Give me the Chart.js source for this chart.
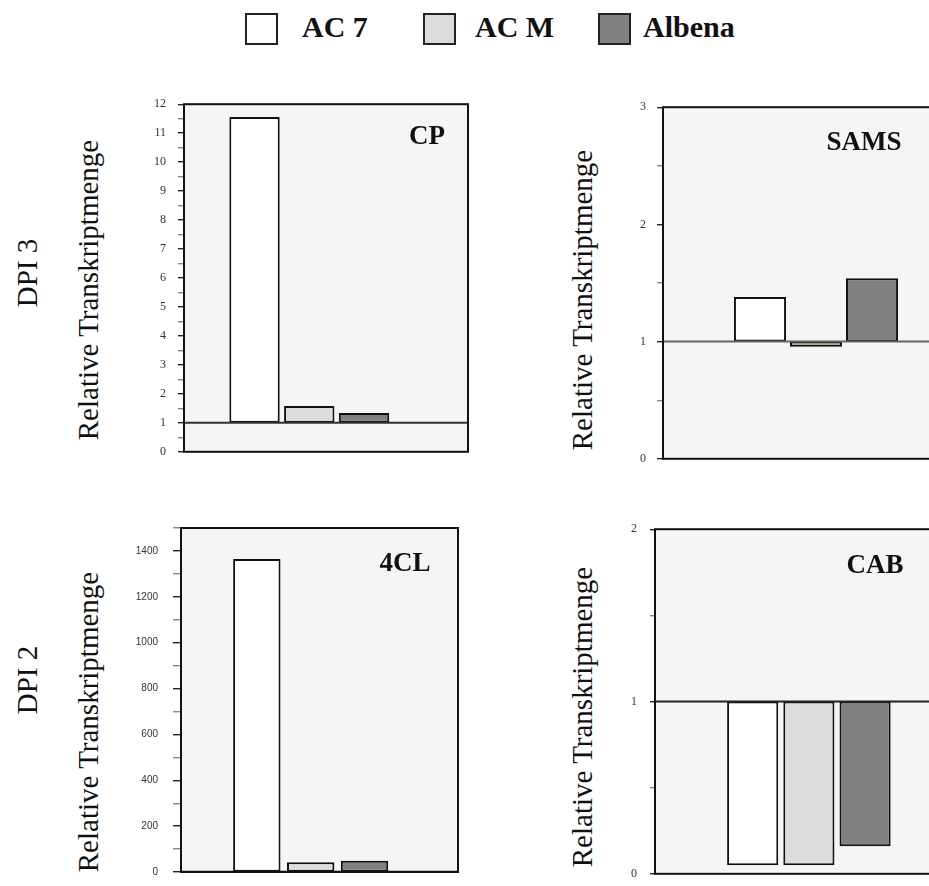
<!DOCTYPE html>
<html>
<head>
<meta charset="utf-8">
<script src="https://cdn.jsdelivr.net/npm/chart.js@4/dist/chart.umd.min.js"></script>
<style>
  html, body { margin: 0; padding: 0; background: #fff; overflow: hidden; width: 929px; height: 886px; }
  body { position: relative; font-family: "Liberation Serif", "Times New Roman", serif; color: #111; }
  canvas { position: absolute; }
  .rot { position: absolute; font-size: 29px; line-height: 29px; white-space: nowrap;
         transform: translate(-50%, -50%) rotate(-90deg); }
  .legtext { position: absolute; top: 12px; font-size: 30px; line-height: 30px; font-weight: bold; white-space: nowrap; }
  .swatch { position: absolute; top: 13px; width: 29px; height: 28px; border: 2px solid #222; }
</style>
</head>
<body>
<div id="legend"></div>
<div class="rot" style="left:27px; top:273px;">DPI 3</div>
<div class="rot" style="left:27px; top:680px;">DPI 2</div>
<div class="rot" style="left:88px; top:290px;">Relative Transkriptmenge</div>
<div class="rot" style="left:582px; top:300px;">Relative Transkriptmenge</div>
<div class="rot" style="left:88px; top:722px;">Relative Transkriptmenge</div>
<div class="rot" style="left:582px; top:717px;">Relative Transkriptmenge</div>
<canvas id="cp"></canvas>
<canvas id="sams"></canvas>
<canvas id="cl"></canvas>
<canvas id="cab"></canvas>
<script>
// Lines (series) and their fills
const seriesNames = ['AC 7', 'AC M', 'Albena'];
const seriesColors = ['#ffffff', '#dcdcdc', '#808080'];

// Relative transcript amounts (control = 1)
const baseline = 1;
const cpValues = [11.56, 1.58, 1.34];
const samsValues = [1.38, 0.956, 1.54];
const clValues = [1365, 42, 49];
const cabValues = [0.05, 0.05, 0.16];

// Labelled ticks on each y axis
const cpTickLabels = [0, 1, 2, 3, 4, 5, 6, 7, 8, 9, 10, 11, 12];
const samsTickLabels = [0, 1, 2, 3];
const clTickLabels = [0, 200, 400, 600, 800, 1000, 1200, 1400];
const cabTickLabels = [0, 1, 2];

// Legend above the panels
(function buildLegend() {
  const legend = document.getElementById('legend');
  const swatchX = [245, 423, 598];
  const textX = [302, 475, 643];
  seriesNames.forEach((name, i) => {
    const sw = document.createElement('div');
    sw.className = 'swatch';
    sw.style.left = swatchX[i] + 'px';
    sw.style.background = seriesColors[i];
    legend.appendChild(sw);
    const t = document.createElement('div');
    t.className = 'legtext';
    t.style.left = textX[i] + 'px';
    t.textContent = name;
    legend.appendChild(t);
  });
})();

// Plot frame: shaded background, reference line at 1, border and gene label
const framePlugin = {
  id: 'panelFrame',
  beforeDraw(chart, args, opts) {
    const a = chart.chartArea, ctx = chart.ctx;
    ctx.save();
    ctx.fillStyle = '#f5f5f5';
    ctx.fillRect(a.left, a.top, a.right - a.left, a.bottom - a.top);
    ctx.restore();
  },
  afterDatasetsDraw(chart, args, opts) {
    const a = chart.chartArea, ctx = chart.ctx;
    const y = chart.scales.y.getPixelForValue(baseline);
    ctx.save();
    ctx.strokeStyle = opts.lineColor;
    ctx.lineWidth = 2;
    ctx.beginPath();
    ctx.moveTo(a.left, y);
    ctx.lineTo(a.right, y);
    ctx.stroke();
    ctx.strokeStyle = '#111';
    ctx.lineWidth = 2;
    ctx.strokeRect(a.left, a.top, a.right - a.left, a.bottom - a.top);
    ctx.fillStyle = '#111';
    ctx.font = 'bold 27px "Liberation Serif", "Times New Roman", serif';
    ctx.textAlign = 'center';
    ctx.textBaseline = 'alphabetic';
    ctx.fillText(opts.label, a.left + opts.labelDx, a.top + opts.labelDy);
    ctx.restore();
  }
};

function makePanel(o) {
  const cv = document.getElementById(o.id);
  const W = 60, padT = 10, padB = 10, padR = 4;
  const bw = o.right - o.left, bh = o.bottom - o.top;
  cv.width = W + bw + padR;
  cv.height = padT + bh + padB;
  cv.style.left = (o.left - W) + 'px';
  cv.style.top = (o.top - padT) + 'px';
  new Chart(cv, {
    type: 'bar',
    data: {
      datasets: [{
        data: o.values.map((v, i) => ({ x: i, y: [baseline, v] })),
        backgroundColor: o.colors,
        borderColor: '#111',
        borderWidth: 2,
        borderSkipped: false,
        barPercentage: o.barFrac,
        categoryPercentage: 1
      }]
    },
    options: {
      responsive: false,
      animation: false,
      devicePixelRatio: 1,
      layout: { padding: { top: padT, bottom: padB, left: 0, right: padR } },
      plugins: {
        legend: { display: false },
        tooltip: { enabled: false },
        panelFrame: { label: o.label, labelDx: o.labelDx, labelDy: o.labelDy, lineColor: o.lineColor }
      },
      scales: {
        x: { type: 'linear', display: false, min: o.xMin, max: o.xMax, offset: false },
        y: {
          min: 0,
          max: o.yMax,
          afterFit(scale) { scale.width = W; },
          border: { display: false },
          grid: {
            drawOnChartArea: false,
            drawTicks: true,
            tickLength: o.tickLen,
            lineWidth: 1.4,
            tickColor: ctx => (o.labels.includes(ctx.tick.value) ? '#222' : '#888')
          },
          ticks: {
            stepSize: o.step,
            autoSkip: false,
            padding: o.tickPad,
            color: '#333',
            font: { family: o.fontFamily, size: o.fontSize },
            callback: v => (o.labels.includes(v) ? String(v) : '')
          }
        }
      }
    },
    plugins: [framePlugin]
  });
}

const serifTicks = '"Liberation Serif", "Times New Roman", serif';
const sansTicks = '"Liberation Sans", Arial, sans-serif';

makePanel({
  id: 'cp', values: cpValues, colors: seriesColors, labels: cpTickLabels,
  left: 184, right: 468, top: 95, bottom: 461.5,
  xMin: -1.288, xMax: 3.899, barFrac: 0.92,
  yMax: 12, step: 0.5, tickLen: 6, tickPad: 12, fontSize: 12, fontFamily: serifTicks,
  label: 'CP', labelDx: 243, labelDy: 40, lineColor: '#333'
});

makePanel({
  id: 'sams', values: samsValues, colors: ['#ffffff', '#a3ad7a', '#808080'], labels: samsTickLabels,
  left: 663, right: 946, top: 99, bottom: 467,
  xMin: -1.732, xMax: 3.321, barFrac: 0.93,
  yMax: 3, step: 0.5, tickLen: 6, tickPad: 11, fontSize: 12, fontFamily: serifTicks,
  label: 'SAMS', labelDx: 201, labelDy: 43, lineColor: '#666'
});

makePanel({
  id: 'cl', values: clValues, colors: seriesColors, labels: clTickLabels,
  left: 181, right: 458, top: 517, bottom: 883,
  xMin: -1.408, xMax: 3.736, barFrac: 0.88,
  yMax: 1500, step: 100, tickLen: 8, tickPad: 15, fontSize: 10, fontFamily: sansTicks,
  label: '4CL', labelDx: 224, labelDy: 43, lineColor: '#222'
});

makePanel({
  id: 'cab', values: cabValues, colors: seriesColors, labels: cabTickLabels,
  left: 655, right: 940, top: 519, bottom: 884,
  xMin: -1.738, xMax: 3.333, barFrac: 0.91,
  yMax: 2, step: 0.5, tickLen: 5, tickPad: 13, fontSize: 12, fontFamily: serifTicks,
  label: 'CAB', labelDx: 220, labelDy: 44, lineColor: '#222'
});
</script>
</body>
</html>
